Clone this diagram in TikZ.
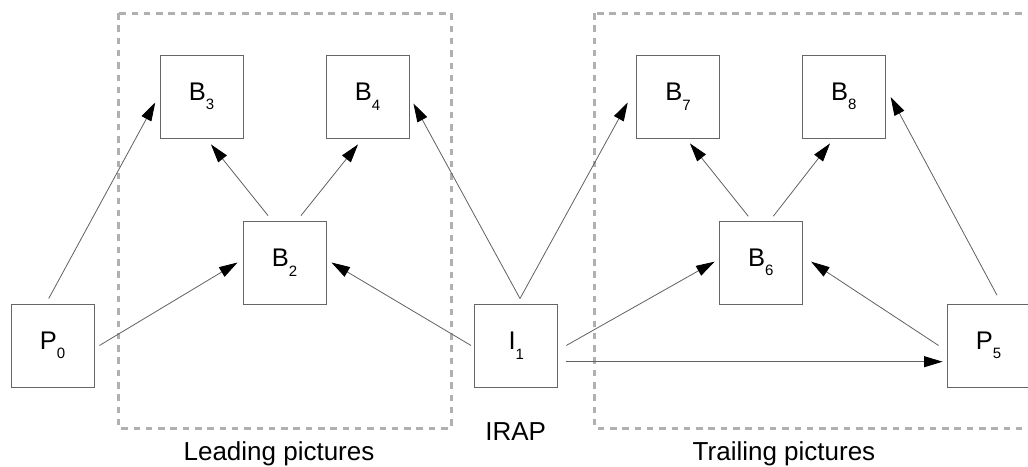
\documentclass[tikz,border=0pt]{standalone}
\usepackage{fontspec}
\setmainfont{Liberation Sans}
\usetikzlibrary{arrows.meta,calc}
% picture name with a lowered index, e.g. B with subscript 3
\newcommand\picname[2]{#1{\fontsize{15}{15}\selectfont\raisebox{-9.5pt}{#2}}}
\begin{document}
\begin{tikzpicture}[x=1pt,y=-1pt,
  frame/.style={draw=black!60,line width=0.9pt,minimum size=83pt,inner sep=0pt,
    font=\fontsize{25.5}{30}\selectfont},
  group/.style={draw=black!31,line width=3pt,dash pattern=on 6.5pt off 5.8pt},
  link/.style={draw=black!62,line width=0.8pt,
    -{Triangle[length=18.5pt,width=11pt,color=black]}},
  caption/.style={anchor=base,inner sep=0pt,font=\fontsize{26}{30}\selectfont}]
\useasboundingbox (0,0) rectangle (1028,466);
\fill[white] (0,0) rectangle (1028,466);

% groups of pictures
\draw[group] (118,13) rectangle (451,428);
\draw[group] (594.5,13) rectangle (1045,428);

% pictures
\node[frame] (P0) at (52.5,345.5) {\picname{P}{0}};
\node[frame] (B3) at (201.5,96.5) {\picname{B}{3}};
\node[frame] (B4) at (367.5,96.5) {\picname{B}{4}};
\node[frame] (B2) at (284.5,262.5) {\picname{B}{2}};
\node[frame] (I1) at (516.3,345.5) {\picname{I}{1}};
\node[frame] (B7) at (678,96.5) {\picname{B}{7}};
\node[frame] (B8) at (843.7,96.5) {\picname{B}{8}};
\node[frame] (B6) at (760.8,262.5) {\picname{B}{6}};
\node[frame] (P5) at (988.5,345.5) {\picname{P}{5}};

% captions
\node[caption] (lead) at (279,460) {Leading pictures};
\node[caption] (irap) at (515.7,440) {IRAP};
\node[caption] (trail) at (784,460) {Trailing pictures};

% references
\draw[link] ($(P0.north)+(-3.8,-5)$) -- ($(B3.west)+(-4.3,6)$);
\draw[link] ($(P0.east)+(5,0)$) -- ($(B2.west)+(-5,0)$);
\draw[link] ($(B2.north)+(-16.5,-5)$) -- ($(B3.south)+(9.5,6)$);
\draw[link] ($(B2.north)+(16.5,-5)$) -- ($(B4.south)+(-9.5,6)$);
\draw[link] ($(I1.west)+(-3.3,0)$) -- ($(B2.east)+(5,0)$);
\draw[link] ($(I1.north)+(3.7,-5)$) -- ($(B4.east)+(4,7)$);
\draw[link] ($(I1.north)+(3.7,-5)$) -- ($(B7.west)+(-8.3,6)$);
\draw[link] ($(I1.east)+(8,0)$) -- ($(B6.west)+(-4.3,-0.8)$);
\draw[link] ($(I1.east)+(8,16.2)$) -- ($(P5.west)+(-4,16.2)$);
\draw[link] ($(B6.north)+(-12.5,-4.3)$) -- ($(B7.south)+(12,5)$);
\draw[link] ($(B6.north)+(12.5,-4.3)$) -- ($(B8.south)+(-13.7,5)$);
\draw[link] ($(P5.west)+(-8,0)$) -- ($(B6.east)+(8.4,-0.8)$);
\draw[link] ($(P5.north)+(8.5,-8.3)$) -- ($(B8.east)+(5,0.5)$);
\end{tikzpicture}
\end{document}
